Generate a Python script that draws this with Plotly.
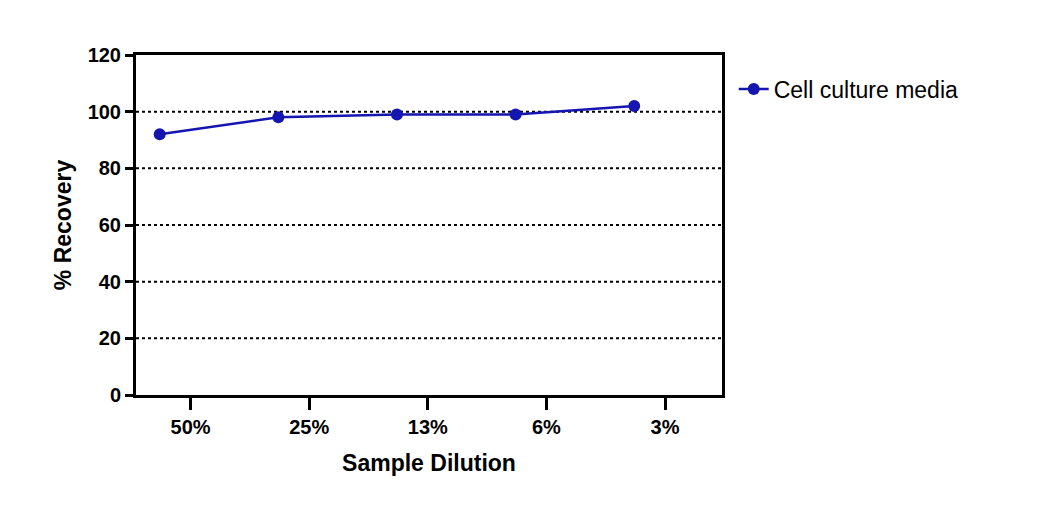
import plotly.graph_objects as go

dilutions = ["50%", "25%", "13%", "6%", "3%"]
recovery = [92, 98, 99, 99, 102]
series_name = "Cell culture media"

x_pos = list(range(len(dilutions)))
tick_pos = [i + 0.26 for i in x_pos]

fig = go.Figure()
fig.add_trace(go.Scatter(
    x=x_pos, y=recovery, mode="lines+markers", name=series_name,
    line=dict(color="#1515b0", width=2.5),
    marker=dict(color="#1515b0", size=12),
))

fig.update_layout(
    width=1042, height=507,
    margin=dict(l=128, r=328, t=47, b=120, autoexpand=False),
    plot_bgcolor="white", paper_bgcolor="white",
    font=dict(family="Liberation Sans, Arial", color="black", size=20),
    showlegend=True,
    legend=dict(x=1.02, y=0.9, xanchor="left", yanchor="middle",
                font=dict(size=23, family="Liberation Sans, Arial")),
)
fig.update_xaxes(
    automargin=False,
    range=[-0.2, 4.74], tickvals=tick_pos, ticktext=[f"<b>{d}</b>" for d in dilutions],
    showline=True, linecolor="black", linewidth=3, mirror=True,
    ticks="outside", ticklen=12, tickwidth=3, tickcolor="black",
    showgrid=False, zeroline=False,
    title=dict(text="<b>Sample Dilution</b>", font=dict(size=23), standoff=18),
)
fig.update_yaxes(
    automargin=False,
    range=[0, 120], tickvals=[0, 20, 40, 60, 80, 100, 120],
    ticktext=[f"<b>{v}</b>" for v in [0, 20, 40, 60, 80, 100, 120]],
    showline=True, linecolor="black", linewidth=3, mirror=True,
    ticks="outside", ticklen=8, tickwidth=3, tickcolor="black",
    showgrid=False, zeroline=False,
    title=dict(text="<b>% Recovery</b>", font=dict(size=23), standoff=10),
)
for v in [20, 40, 60, 80, 100]:
    fig.add_hline(y=v, line=dict(color="black", width=2, dash="dot"), layer="below")

fig.write_html("out.html")
